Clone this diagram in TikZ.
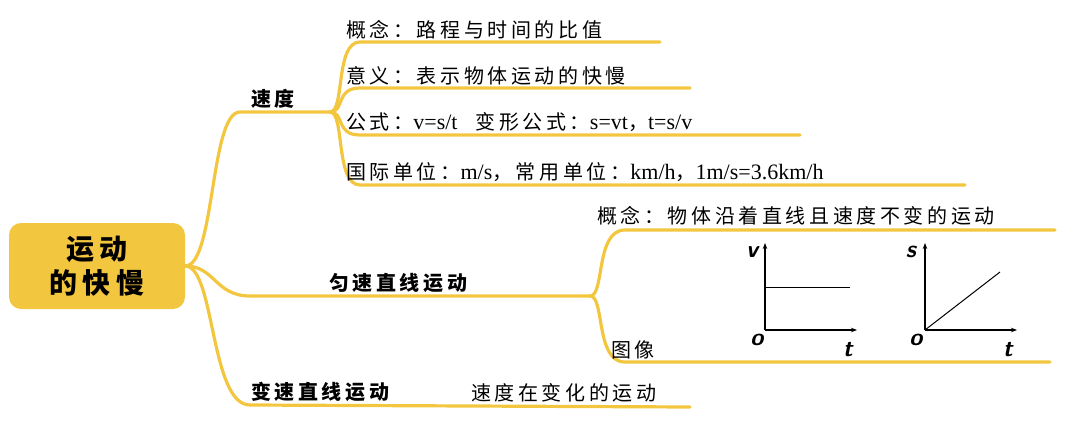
\documentclass[tikz,border=0pt]{standalone}
\usepackage{fontspec}
\usetikzlibrary{arrows.meta}
\setmainfont{Liberation Serif}
\newfontfamily\cjk[LetterSpace=18]{Noto Sans CJK SC}
\newcommand{\lt}[1]{{\rmfamily\fontsize{22}{22}\selectfont #1}}
\definecolor{ylw}{HTML}{F3C63F}
\begin{document}
\begin{tikzpicture}[x=1pt,y=-1pt,
  br/.style={draw=ylw,line width=3.2pt,line cap=round},
  lbl/.style={anchor=south west,inner sep=1pt,font=\fontsize{20}{22}\selectfont\cjk},
  blbl/.style={anchor=south west,inner sep=1pt,font=\fontsize{20}{22}\selectfont\cjk\bfseries},
  ax/.style={line width=1.3pt,-{Stealth[length=6pt]}},
  axl/.style={font=\fontsize{24}{26}\selectfont\sffamily\bfseries\itshape}]
\useasboundingbox (0,0) rectangle (1080,434);
\node[fill=ylw,rounded corners=12pt,minimum width=176pt,minimum height=86pt,align=center,
  font=\fontsize{28}{34}\selectfont\cjk\bfseries] (c) at (97,266) {运动\\的快慢};
% branch 1
\coordinate (b1) at (240,112);
\draw[br] (c.east) .. controls (215,266) and (210,112) .. (b1) -- (330,112);
\node[blbl] (sd) at (250,110) {速度};
\draw[br] (330,112) .. controls (345,112) and (335,42) .. (360,42) -- (660,42);
\draw[br] (330,112) .. controls (345,112) and (335,88) .. (360,88) -- (690,88);
\draw[br] (330,112) .. controls (345,112) and (335,135) .. (360,135) -- (800,135);
\draw[br] (330,112) .. controls (345,112) and (335,185) .. (360,185) -- (965,185);
\node[lbl] (t1) at (345,40) {概念：路程与时间的比值};
\node[lbl] (t2) at (345,86) {意义：表示物体运动的快慢};
\node[lbl] (t3) at (345,133) {公式：\lt{v=s/t}\hspace{18pt}变形公式：\lt{s=vt}，\lt{t=s/v}};
\node[lbl] (t4) at (345,183) {国际单位：\lt{m/s}，常用单位：\lt{km/h}，\lt{1m/s=3.6km/h}};
% branch 2
\draw[br] (c.east) .. controls (215,266) and (215,296) .. (250,296) -- (590,296);
\node[blbl] (ys) at (328,294) {匀速直线运动};
\draw[br] (590,296) .. controls (605,296) and (595,230) .. (625,230) -- (1055,230);
\draw[br] (590,296) .. controls (605,296) and (595,362) .. (625,362) -- (1050,362);
\node[lbl] (gn) at (596,226) {概念：物体沿着直线且速度不变的运动};
\node[lbl] (tx) at (610,360) {图像};
% branch 3
\draw[br] (c.east) .. controls (215,266) and (210,405) .. (250,405) -- (690,407);
\node[blbl] (bs) at (250,403) {变速直线运动};
\node[lbl] (bsd) at (470,403) {速度在变化的运动};
% graphs
\coordinate (o1) at (765,330);
\draw[ax] (o1) -- (765,243);
\draw[ax] (o1) -- (857,330);
\draw[line width=1pt] (765,287) -- (850,287);
\node[axl] at (752,252) {v};
\node[axl] at (757,340) {o};
\node[axl] at (848,350) {t};
\coordinate (o2) at (925,330);
\draw[ax] (o2) -- (925,243);
\draw[ax] (o2) -- (1017,330);
\draw[line width=1pt] (o2) -- (1000,272);
\node[axl] at (911,252) {s};
\node[axl] at (916,340) {o};
\node[axl] at (1008,350) {t};
\end{tikzpicture}
\end{document}
